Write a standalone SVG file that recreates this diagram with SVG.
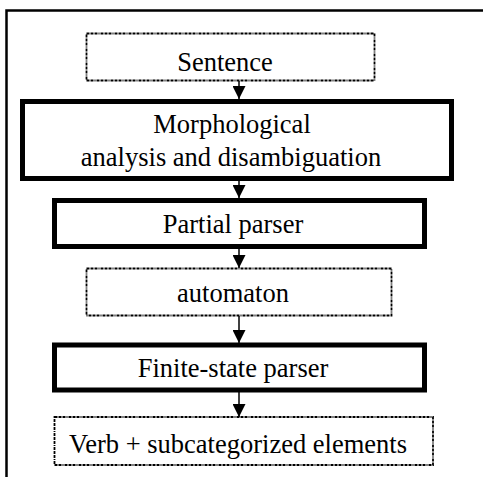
<svg xmlns="http://www.w3.org/2000/svg" width="483" height="477" viewBox="0 0 483 477">
  <defs>
    <style>
      .dash { fill: #fff; stroke: #000; stroke-width: 1.8; stroke-dasharray: 3 1 3 1 3 1 1 1; }
      .thick { fill: #fff; stroke: #000; stroke-width: 5; }
      .lbl { font-family: "Liberation Serif", "Times New Roman", serif; font-size: 26.5px; fill: #000; text-anchor: middle; }
      .conn { stroke: #000; stroke-width: 1.5; fill: none; marker-end: url(#arrow); }
    </style>
    <marker id="arrow" markerUnits="userSpaceOnUse" markerWidth="13" markerHeight="13" viewBox="0 0 13 13" refX="13" refY="6.5" orient="auto">
      <path d="M0,0 L13,6.5 L0,13 Z" fill="#000"/>
    </marker>
  </defs>

  <rect width="483" height="477" fill="#fff"/>

  <!-- outer frame: top and left edges -->
  <path d="M6.5,477 V10.5 H483" fill="none" stroke="#000" stroke-width="2.5"/>

  <g id="connectors">
    <line class="conn" x1="239" y1="81" x2="239" y2="99"/>
    <line class="conn" x1="239" y1="181" x2="239" y2="198"/>
    <line class="conn" x1="239" y1="249" x2="239" y2="268"/>
    <line class="conn" x1="239" y1="316" x2="239" y2="343"/>
    <line class="conn" x1="239" y1="392" x2="239" y2="417"/>
  </g>

  <g id="sentence">
    <rect class="dash" x="86.5" y="33.5" width="288" height="47"/>
    <text class="lbl" x="225" y="71">Sentence</text>
  </g>

  <g id="morphology">
    <rect class="thick" x="22.5" y="101.5" width="429" height="77"/>
    <text class="lbl" x="232" y="133">Morphological</text>
    <text class="lbl" x="231" y="166">analysis and disambiguation</text>
  </g>

  <g id="partial-parser">
    <rect class="thick" x="54.5" y="200.5" width="370" height="46"/>
    <text class="lbl" x="233" y="233">Partial parser</text>
  </g>

  <g id="automaton">
    <rect class="dash" x="86.5" y="268.5" width="305" height="47"/>
    <text class="lbl" x="233" y="302">automaton</text>
  </g>

  <g id="finite-state-parser">
    <rect class="thick" x="54.5" y="345" width="370" height="45"/>
    <text class="lbl" x="233" y="377">Finite-state parser</text>
  </g>

  <g id="verb-elements">
    <rect class="dash" x="54.5" y="417" width="378.5" height="48"/>
    <text class="lbl" x="238" y="453">Verb + subcategorized elements</text>
  </g>
</svg>
